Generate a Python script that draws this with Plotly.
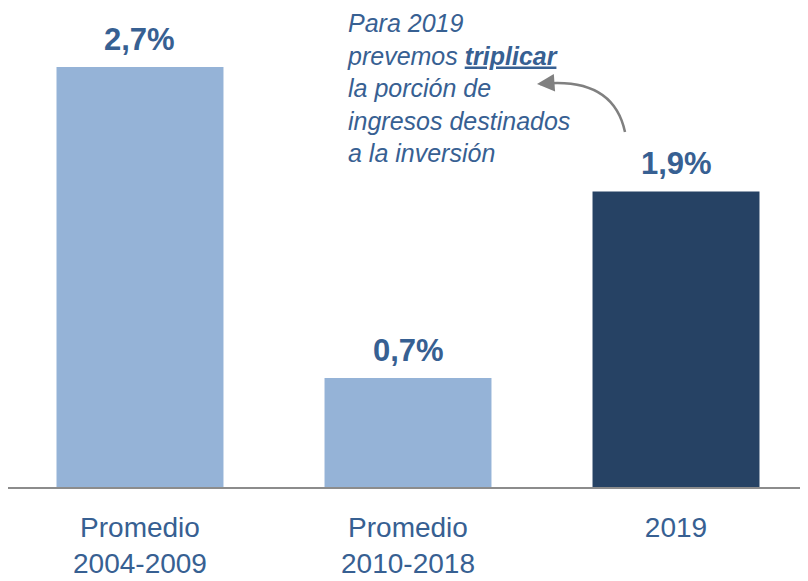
import plotly.graph_objects as go

# data
categories = ["Promedio<br>2004-2009", "Promedio<br>2010-2018", "2019"]
values = [2.7, 0.7, 1.9]
value_labels = ["2,7%", "0,7%", "1,9%"]
bar_colors = ["#95B3D7", "#95B3D7", "#264264"]

TEXT_BLUE = "#376092"

fig = go.Figure(go.Bar(
    x=list(range(len(categories))),
    y=values,
    marker=dict(color=bar_colors, line=dict(width=0)),
    hoverinfo="skip",
))

# value labels above bars
for i, (val, lab) in enumerate(zip(values, value_labels)):
    fig.add_annotation(
        x=i, y=val, text=f"<b>{lab}</b>", showarrow=False,
        yanchor="bottom", yshift=8,
        font=dict(family="Liberation Sans, Arial", size=31, color=TEXT_BLUE),
    )

# side note
fig.add_annotation(
    xref="paper", yref="paper", x=0.4225, y=1.0,
    xanchor="left", yanchor="top", align="left", showarrow=False,
    borderpad=0,
    text=("<i>Para 2019<br>prevemos <b><u>triplicar</u></b><br>la porción de<br>"
          "ingresos destinados<br>a la inversión</i>"),
    font=dict(family="Liberation Sans, Arial", size=25, color=TEXT_BLUE),
)

# curved arrow from the 2019 bar to the note
fig.add_shape(
    type="path", xref="paper", yref="paper",
    path="M 0.77125,0.7411 Q 0.75625,0.8580 0.6650,0.8413",
    line=dict(color="#808080", width=2.5),
)
fig.add_annotation(
    xref="paper", yref="paper", x=0.66125, y=0.8413,
    ax=14, ay=-1, showarrow=True, text="",
    arrowhead=2, arrowsize=1.4, arrowwidth=2.5, arrowcolor="#808080",
)

# page body adds an 8px margin, so the figure is 8px smaller
fig.update_layout(
    width=800, height=573,
    margin=dict(l=0, r=0, t=0, b=94),
    paper_bgcolor="white", plot_bgcolor="white",
    bargap=0.377,
    showlegend=False,
    xaxis=dict(
        type="linear",
        range=[-0.4925, 2.4925],
        tickmode="array",
        tickvals=list(range(len(categories))),
        ticktext=categories,
        showline=True, linecolor="#8C8C8C", linewidth=2,
        showgrid=False, zeroline=False, ticks="",
        ticklabelstandoff=14,
        tickfont=dict(family="Liberation Sans, Arial", size=28, color=TEXT_BLUE),
        fixedrange=True,
    ),
    yaxis=dict(range=[0, 3.079], visible=False, fixedrange=True),
)

fig.write_html("out.html")
